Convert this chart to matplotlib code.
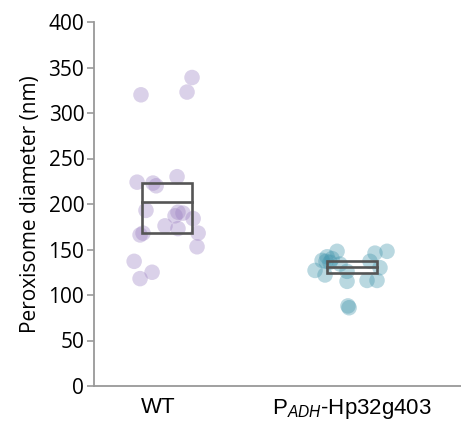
import matplotlib
matplotlib.use("Agg")
import matplotlib.pyplot as plt
from matplotlib.patches import Rectangle

plt.rcParams['mathtext.fontset'] = 'custom'
plt.rcParams['mathtext.rm'] = 'Liberation Sans'
plt.rcParams['mathtext.it'] = 'Liberation Sans:italic'

categories = ['WT', r'P$_{\mathit{ADH}}$-Hp32g403']

wt_values = [320, 339, 323, 224, 223, 220, 230, 193, 191, 190, 187, 184,
             176, 173, 168, 166, 168, 153, 137, 125, 118]
wt_jitter = [-0.141, 0.135, 0.108, -0.162, -0.076, -0.059, 0.054, -0.114,
             0.059, 0.086, 0.043, 0.141, -0.011, 0.059, -0.130, -0.146,
             0.168, 0.162, -0.178, -0.081, -0.146]

mut_values = [148, 148, 146, 142, 140, 138, 137, 136, 134, 127, 122, 126,
              115, 116, 116, 130, 137, 88, 86]
mut_jitter = [-0.081, 0.189, 0.124, -0.135, -0.108, -0.162, -0.141, -0.119,
              -0.065, -0.200, -0.146, -0.027, -0.027, 0.081, 0.135, 0.151,
              0.097, -0.022, -0.016]

# box: (lower, mean, upper)
box_stats = [(168, 202, 223), (124, 131, 137)]

yticks = [0, 50, 100, 150, 200, 250, 300, 350, 400]

fig = plt.figure(figsize=(4.61, 4.21), dpi=100)
ax = fig.add_axes([94/461, 1-386/421, 1-94/461, (386-22)/421])

point_colors = ['#9b80c2', '#3f93ab']
groups = [(wt_values, wt_jitter), (mut_values, mut_jitter)]
for i, (vals, jit) in enumerate(groups):
    xs = [i + j for j in jit]
    ax.scatter(xs, vals, s=125, color=point_colors[i], alpha=0.36,
               edgecolors='none', zorder=2)

half = 0.135
for i, (lo, mid, hi) in enumerate(box_stats):
    ax.add_patch(Rectangle((i - half, lo), 2*half, hi - lo, fill=False,
                           edgecolor='#555555', linewidth=1.9, zorder=3))
    ax.plot([i - half, i + half], [mid, mid], color='#555555',
            linewidth=1.9, zorder=3)

ax.set_xlim(-0.395, 1.589)
ax.set_ylim(0, 400)
ax.set_yticks(yticks)
ax.set_yticklabels([str(t) for t in yticks], fontsize=15, family='Open Sans')
ax.set_xticks([-0.05, 1])
ax.set_xticklabels(categories, fontsize=16, family='Liberation Sans')
ax.tick_params(axis='x', length=0, pad=8)
ax.tick_params(axis='y', length=5, width=1.2, color='#999999', pad=2)
ax.set_ylabel('Peroxisome diameter (nm)', fontsize=15, family='Open Sans',
              labelpad=5)

for s in ['top', 'right']:
    ax.spines[s].set_visible(False)
for s in ['left', 'bottom']:
    ax.spines[s].set_color('#999999')
    ax.spines[s].set_linewidth(1.3)

fig.savefig('out.png', dpi=100)
